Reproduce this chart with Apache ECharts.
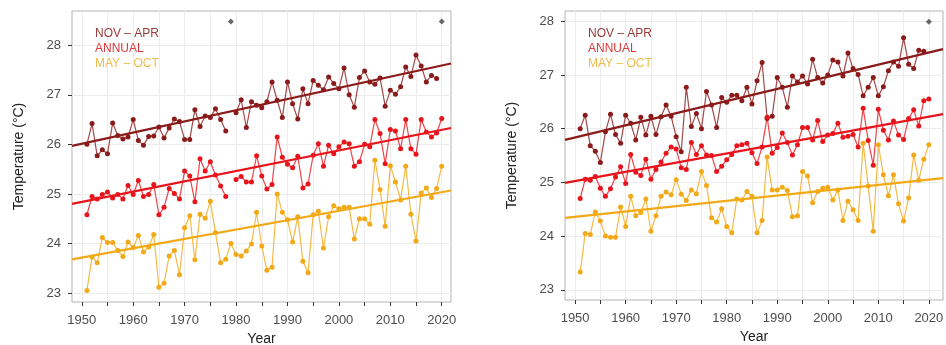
<!DOCTYPE html>
<html lang="en">
<head>
<meta charset="utf-8">
<title>Temperature trends</title>
<script src="https://cdn.jsdelivr.net/npm/echarts@6/dist/echarts.min.js"></script>
<style>
    html, body { margin: 0; padding: 0; background: #fff; }
    #main { width: 946px; height: 345px; }
</style>
</head>
<body>
<div id="main"></div>
<script type="text/javascript">
// years 1951..2020, null = missing
var firstYear = 1951, lastYear = 2020;

var leftNov = [26.00, 26.42, 25.77, 25.89, 25.81, 26.43, 26.18, 26.11, 26.15, 26.50,
    26.08, 25.98, 26.16, 26.17, 26.35, 26.13, 26.33, 26.51, 26.46, 26.10,
    26.10, 26.70, 26.36, 26.57, 26.54, 26.72, 26.50, 26.27, null, 26.64,
    26.90, 26.34, 26.86, 26.79, 26.74, 26.86, 27.26, 26.89, 26.54, 27.26,
    26.82, 26.51, 27.12, 26.82, 27.29, 27.19, 27.10, 27.36, 27.23, 27.12,
    27.54, 27.00, 26.75, 27.35, 27.48, 27.26, 27.21, 27.34, 26.77, 27.09,
    27.01, 27.16, 27.56, 27.37, 27.80, 27.58, 27.26, 27.39, 27.33, null];
var leftAnn = [24.58, 24.95, 24.90, 24.99, 25.04, 24.92, 24.99, 24.90, 25.17, 24.99,
    25.27, 24.95, 24.99, 25.19, 24.58, 24.73, 25.11, 25.01, 24.90, 25.46,
    25.36, 24.84, 25.71, 25.46, 25.65, 25.38, 25.16, 24.95, null, 25.29,
    25.35, 25.24, 25.24, 25.77, 25.36, 25.10, 25.19, 26.15, 25.74, 25.60,
    25.53, 25.76, 25.12, 25.20, 25.78, 26.01, 25.56, 25.98, 25.81, 25.95,
    26.05, 26.01, 25.56, 25.65, 26.00, 25.95, 26.50, 26.22, 25.61, 26.30,
    26.27, 25.91, 26.50, 25.91, 25.80, 26.50, 26.25, 26.15, 26.23, 26.52];
var leftMay = [23.05, 23.73, 23.61, 24.12, 24.02, 24.02, 23.86, 23.74, 24.03, 23.92,
    24.16, 23.83, 23.93, 24.18, 23.12, 23.20, 23.75, 23.86, 23.37, 24.32,
    24.56, 23.67, 24.59, 24.51, 24.85, 24.22, 23.61, 23.68, 24.00, 23.78,
    23.75, 23.85, 23.99, 24.63, 23.95, 23.46, 23.52, 25.00, 24.63, 24.48,
    24.03, 24.54, 23.64, 23.41, 24.58, 24.65, 23.91, 24.54, 24.76, 24.70,
    24.73, 24.73, 24.09, 24.50, 24.50, 24.39, 25.68, 25.09, 24.35, 25.57,
    25.24, 24.88, 25.56, 24.59, 24.05, 25.02, 25.12, 24.93, 25.11, 25.56];

var rightNov = [26.00, 26.25, 25.68, 25.58, 25.37, 25.94, 26.27, 25.89, 25.73, 26.25,
    26.10, 25.79, 26.21, 25.88, 26.23, 25.89, 26.22, 26.44, 26.23, 25.85,
    25.57, 26.77, 26.04, 26.28, 26.00, 26.69, 26.44, 26.02, 26.58, 26.49,
    26.62, 26.62, 26.52, 26.77, 26.46, 26.89, 27.23, 26.19, 26.23, 26.95,
    26.77, 26.40, 26.98, 26.87, 26.98, 26.83, 27.29, 26.95, 26.85, 27.00,
    27.28, 27.24, 26.98, 27.41, 27.12, 27.01, 26.61, 26.77, 26.95, 26.61,
    26.78, 27.08, 27.24, 27.16, 27.69, 27.20, 27.12, 27.46, 27.44, null];
var rightAnn = [24.70, 25.06, 25.04, 25.11, 24.89, 24.74, 24.88, 25.10, 25.29, 24.98,
    25.52, 25.19, 25.13, 25.43, 25.06, 25.24, 25.38, 25.54, 25.66, 25.62,
    25.27, 25.24, 25.74, 25.52, 25.68, 25.51, 25.50, 25.20, 25.30, 25.42,
    25.52, 25.68, 25.70, 25.73, 25.55, 25.35, 25.66, 26.21, 25.54, 25.65,
    25.92, 25.74, 25.51, 25.70, 26.02, 26.02, 25.79, 26.15, 25.76, 25.88,
    25.91, 26.10, 25.84, 25.86, 25.89, 25.66, 26.38, 25.78, 25.32, 26.36,
    25.97, 25.79, 26.14, 25.88, 25.80, 26.19, 26.35, 26.05, 26.52, 26.55];
var rightMay = [23.33, 24.05, 24.03, 24.45, 24.28, 24.00, 23.98, 23.98, 24.54, 24.18,
    24.74, 24.38, 24.44, 24.69, 24.09, 24.38, 24.74, 24.82, 24.77, 25.05,
    24.78, 24.66, 24.86, 24.79, 25.20, 24.94, 24.34, 24.26, 24.51, 24.18,
    24.06, 24.69, 24.67, 24.83, 24.74, 24.06, 24.29, 25.47, 24.86, 24.86,
    24.91, 24.85, 24.36, 24.38, 25.20, 25.12, 24.62, 24.83, 24.89, 24.91,
    24.67, 24.86, 24.29, 24.65, 24.49, 24.29, 25.73, 24.93, 24.09, 25.70,
    25.14, 24.75, 25.14, 24.60, 24.28, 24.71, 25.51, 25.04, 25.43, 25.70];

// fitted trend lines, [year, value] at the panel edges
var leftNovTrend = [[1948.1, 25.97], [2021.8, 27.63]];
var leftAnnTrend = [[1948.1, 24.80], [2021.8, 26.33]];
var leftMayTrend = [[1948.1, 23.68], [2021.8, 25.07]];
var rightNovTrend = [[1948.0, 25.79], [2022.8, 27.48]];
var rightAnnTrend = [[1948.0, 24.99], [2022.8, 26.27]];
var rightMayTrend = [[1948.0, 24.34], [2022.8, 25.08]];

// missing-data markers along the top
var leftMissing = [[1979, 28.48], [2020, 28.48]];
var rightMissing = [[2020, 27.99]];

var xTicks = [1950, 1955, 1960, 1965, 1970, 1975, 1980, 1985, 1990, 1995, 2000, 2005, 2010, 2015, 2020];
var xLabels = [1950, 1960, 1970, 1980, 1990, 2000, 2010, 2020];
var yTicks = [23, 24, 25, 26, 27, 28];

var names = ['NOV – APR', 'ANNUAL', 'MAY – OCT'];
var colors = ['#8b1a1a', '#e8141c', '#f2a917'];
var legendColors = ['#9a3a3a', '#e0393c', '#efbb4c'];

var FONT = '"Liberation Sans", Arial, sans-serif';

function pairs(vals) {
    var out = [];
    for (var i = 0; i < vals.length; i++) {
        out.push([firstYear + i, vals[i] == null ? '-' : vals[i]]);
    }
    return out;
}

function xAxisFor(idx, min, max) {
    return {
        type: 'value', gridIndex: idx, min: min, max: max,
        name: 'Year', nameLocation: 'middle', nameGap: 29,
        nameTextStyle: { fontFamily: FONT, fontSize: 14, color: '#222' },
        axisLine: { show: false },
        axisTick: { show: true, length: 4, customValues: xTicks, lineStyle: { color: '#333' } },
        axisLabel: {
            customValues: xLabels, margin: 12, fontFamily: FONT, fontSize: 13, color: '#4d4d4d',
            formatter: function (v) { return String(v); }
        },
        splitLine: { show: true, lineStyle: { color: '#ececec', width: 1 } }
    };
}

function yAxisFor(idx, min, max) {
    return {
        type: 'value', gridIndex: idx, min: min, max: max,
        name: 'Temperature (°C)', nameLocation: 'middle', nameGap: 46,
        nameTextStyle: { fontFamily: FONT, fontSize: 14, color: '#222' },
        axisLine: { show: false },
        axisTick: { show: true, length: 4, customValues: yTicks, lineStyle: { color: '#333' } },
        axisLabel: { customValues: yTicks, margin: 11, fontFamily: FONT, fontSize: 13, color: '#4d4d4d' },
        splitLine: { show: true, lineStyle: { color: '#ececec', width: 1 } }
    };
}

function dataSeries(idx, k, vals) {
    return {
        name: names[k], type: 'line', xAxisIndex: idx, yAxisIndex: idx,
        data: pairs(vals), symbol: 'circle', symbolSize: 5, connectNulls: false,
        itemStyle: { color: colors[k] },
        lineStyle: { color: colors[k], width: 1.2, opacity: 0.8 },
        emphasis: { disabled: true }, animation: false, z: 3
    };
}

function trendSeries(idx, k, pts) {
    return {
        name: names[k], type: 'line', xAxisIndex: idx, yAxisIndex: idx,
        data: pts, symbol: 'none',
        lineStyle: { color: colors[k], width: 2.2 },
        emphasis: { disabled: true }, animation: false, z: 4
    };
}

function missingSeries(idx, pts) {
    return {
        type: 'scatter', xAxisIndex: idx, yAxisIndex: idx, data: pts,
        symbol: 'diamond', symbolSize: 6, itemStyle: { color: '#444' },
        animation: false, z: 5
    };
}

function legendFor(left) {
    return {
        left: left, top: 23, orient: 'vertical', icon: 'none',
        itemWidth: 0, itemHeight: 10, itemGap: 3, selectedMode: false,
        data: names.map(function (n, k) {
            return { name: n, textStyle: { color: legendColors[k] } };
        }),
        textStyle: { fontFamily: FONT, fontSize: 12, padding: [0, 0, 0, -5] }
    };
}

var myChart = echarts.init(document.getElementById('main'), null, { renderer: 'canvas' });
myChart.setOption({
    backgroundColor: '#fff',
    animation: false,
    legend: [legendFor(90), legendFor(583)],
    grid: [
        { left: 72, top: 11, width: 379, height: 291, outerBoundsMode: 'none', containLabel: false,
          show: true, borderColor: '#b3b3b3', borderWidth: 1, backgroundColor: 'transparent' },
        { left: 565, top: 11, width: 378, height: 289, outerBoundsMode: 'none', containLabel: false,
          show: true, borderColor: '#b3b3b3', borderWidth: 1, backgroundColor: 'transparent' }
    ],
    xAxis: [xAxisFor(0, 1948.1, 2021.8), xAxisFor(1, 1948.0, 2022.8)],
    yAxis: [yAxisFor(0, 22.82, 28.69), yAxisFor(1, 22.81, 28.19)],
    series: [
        dataSeries(0, 0, leftNov), dataSeries(0, 1, leftAnn), dataSeries(0, 2, leftMay),
        trendSeries(0, 0, leftNovTrend), trendSeries(0, 1, leftAnnTrend), trendSeries(0, 2, leftMayTrend),
        missingSeries(0, leftMissing),
        dataSeries(1, 0, rightNov), dataSeries(1, 1, rightAnn), dataSeries(1, 2, rightMay),
        trendSeries(1, 0, rightNovTrend), trendSeries(1, 1, rightAnnTrend), trendSeries(1, 2, rightMayTrend),
        missingSeries(1, rightMissing)
    ]
});
</script>
</body>
</html>
